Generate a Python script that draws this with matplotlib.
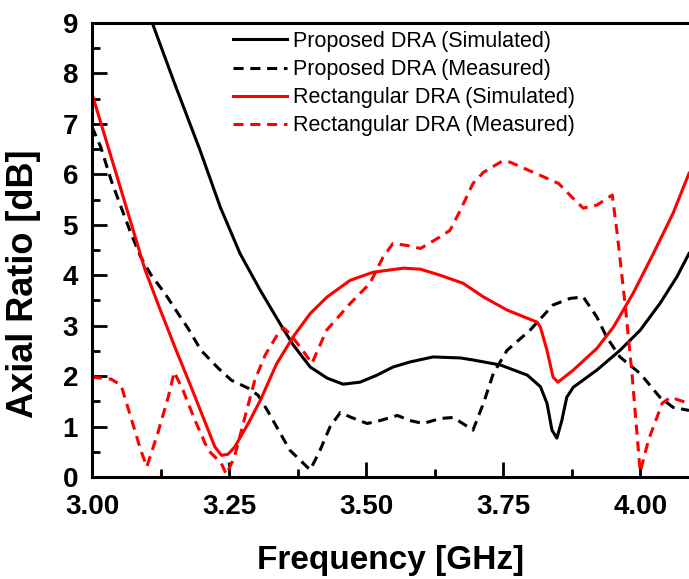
import matplotlib
matplotlib.use('Agg')
import matplotlib.pyplot as plt
from matplotlib.ticker import MultipleLocator

plt.rcParams['font.family'] = ['Liberation Sans', 'DejaVu Sans']

# Proposed DRA (Simulated)
prop_sim_x = [3.11, 3.15, 3.197, 3.234, 3.27, 3.307, 3.343, 3.367, 3.398, 3.429, 3.458,
              3.489, 3.52, 3.549, 3.58, 3.622, 3.672, 3.695, 3.745, 3.794, 3.818, 3.830,
              3.839, 3.848, 3.857, 3.866, 3.878, 3.921, 3.963, 4.0, 4.036, 4.067, 4.089]
prop_sim_y = [9.0, 7.82, 6.48, 5.35, 4.43, 3.70, 3.04, 2.62, 2.18, 1.96, 1.84,
              1.88, 2.02, 2.18, 2.28, 2.38, 2.36, 2.32, 2.22, 2.02, 1.79, 1.46,
              0.93, 0.77, 1.12, 1.58, 1.78, 2.12, 2.51, 2.91, 3.44, 3.97, 4.43]

# Proposed DRA (Measured)
prop_meas_x = [3.0, 3.016, 3.035, 3.053, 3.071, 3.089, 3.108, 3.133, 3.157, 3.175, 3.199,
               3.23, 3.254, 3.285, 3.303, 3.321, 3.337, 3.361, 3.38, 3.398, 3.416, 3.434,
               3.453, 3.471, 3.502, 3.526, 3.557, 3.58, 3.604, 3.635, 3.659, 3.695, 3.714,
               3.732, 3.757, 3.799, 3.841, 3.872, 3.896, 3.921, 3.939, 3.963, 4.0, 4.036,
               4.06, 4.089]
prop_meas_y = [6.94, 6.54, 5.88, 5.35, 4.83, 4.36, 4.0, 3.64, 3.24, 2.95, 2.51,
               2.16, 1.92, 1.76, 1.62, 1.3, 0.99, 0.53, 0.33, 0.14, 0.53, 0.99,
               1.28, 1.19, 1.06, 1.12, 1.22, 1.12, 1.06, 1.16, 1.18, 0.93, 1.46,
               2.05, 2.51, 2.91, 3.41, 3.54, 3.57, 3.17, 2.77, 2.38, 2.05, 1.58,
               1.38, 1.32]

# Rectangular DRA (Simulated)
rect_sim_x = [3.0, 3.05, 3.097, 3.12, 3.151, 3.181, 3.212, 3.224, 3.236, 3.248, 3.26,
              3.285, 3.307, 3.337, 3.367, 3.398, 3.429, 3.471, 3.513, 3.568, 3.599,
              3.635, 3.677, 3.714, 3.757, 3.812, 3.818, 3.830, 3.841, 3.850, 3.878,
              3.921, 3.951, 3.987, 4.024, 4.06, 4.089]
rect_sim_y = [7.6, 5.8, 4.1, 3.44, 2.58, 1.78, 0.93, 0.6, 0.43, 0.45, 0.59,
              1.06, 1.52, 2.25, 2.78, 3.24, 3.57, 3.9, 4.06, 4.14, 4.12,
              4.0, 3.84, 3.57, 3.31, 3.07, 2.97, 2.51, 1.98, 1.88, 2.12,
              2.55, 2.97, 3.64, 4.43, 5.23, 6.02]

# Rectangular DRA (Measured)
rect_meas_x = [3.0, 3.035, 3.053, 3.071, 3.089, 3.1, 3.12, 3.139, 3.15, 3.166, 3.188,
               3.212, 3.236, 3.245, 3.26, 3.279, 3.297, 3.316, 3.343, 3.35, 3.361,
               3.385, 3.401, 3.428, 3.471, 3.507, 3.531, 3.549, 3.575, 3.599, 3.635,
               3.653, 3.672, 3.695, 3.714, 3.748, 3.763, 3.851, 3.878, 3.896, 3.921,
               3.949, 3.958, 3.973, 3.985, 4.0, 4.015, 4.04, 4.055, 4.089]
rect_meas_y = [1.98, 1.94, 1.82, 1.18, 0.53, 0.2, 0.87, 1.58, 2.08, 1.72, 1.12,
               0.53, 0.27, 0.05, 0.4, 1.19, 1.92, 2.42, 2.91, 2.95, 2.84,
               2.5, 2.25, 2.91, 3.44, 3.84, 4.36, 4.63, 4.59, 4.53, 4.76,
               4.89, 5.29, 5.82, 6.04, 6.26, 6.24, 5.82, 5.52, 5.33, 5.39,
               5.59, 4.83, 3.37, 2.05, 0.1, 0.73, 1.46, 1.58, 1.46]

x_ticks = [3.00, 3.25, 3.50, 3.75, 4.00]
x_tick_labels = ['3.00', '3.25', '3.50', '3.75', '4.00']

W, H = 689, 579
fig = plt.figure(figsize=(W / 100, H / 100), dpi=100)
ax = fig.add_axes([92 / W, (H - 477) / H, 1 - 92 / W, 454 / H])

lw = 2.2
dash = (0, (3.3, 2.2))
ax.plot(prop_sim_x, prop_sim_y, color='black', lw=lw, label='Proposed DRA (Simulated)')
ax.plot(prop_meas_x, prop_meas_y, color='black', lw=lw, ls=dash, label='Proposed DRA (Measured)')
ax.plot(rect_sim_x, rect_sim_y, color='#ff0000', lw=lw, label='Rectangular DRA (Simulated)')
ax.plot(rect_meas_x, rect_meas_y, color='#ff0000', lw=lw, ls=dash, label='Rectangular DRA (Measured)')

ax.set_xlim(3.0, 4.089)
ax.set_ylim(0, 9)
ax.set_xticks(x_ticks)
ax.set_xticklabels(x_tick_labels)
ax.xaxis.set_minor_locator(MultipleLocator(0.125))
ax.yaxis.set_major_locator(MultipleLocator(1))
ax.yaxis.set_minor_locator(MultipleLocator(0.5))

ax.tick_params(which='both', direction='in', width=2, labelsize=20)
ax.tick_params(which='major', length=11)
ax.tick_params(which='minor', length=6)
ax.tick_params(axis='x', pad=12)
ax.tick_params(axis='y', pad=10)
for lab in ax.get_xticklabels() + ax.get_yticklabels():
    lab.set_fontweight('bold')

for side in ['left', 'bottom', 'top']:
    ax.spines[side].set_linewidth(2.2)
ax.spines['right'].set_visible(False)

ax.set_xlabel('Frequency [GHz]', fontsize=24, fontweight='bold', labelpad=18)
ax.set_ylabel('Axial Ratio [dB]', fontsize=26, fontweight='bold')
ax.yaxis.set_label_coords(-0.086, 0.425)

fig.legend(loc='upper left', bbox_to_anchor=(233 / W, 1 - 31 / H), frameon=False,
           fontsize=15.5, handlelength=2.5, handletextpad=0.3, labelspacing=0.33,
           borderpad=0, borderaxespad=0)

fig.savefig('out.png', dpi=100, facecolor='white')
